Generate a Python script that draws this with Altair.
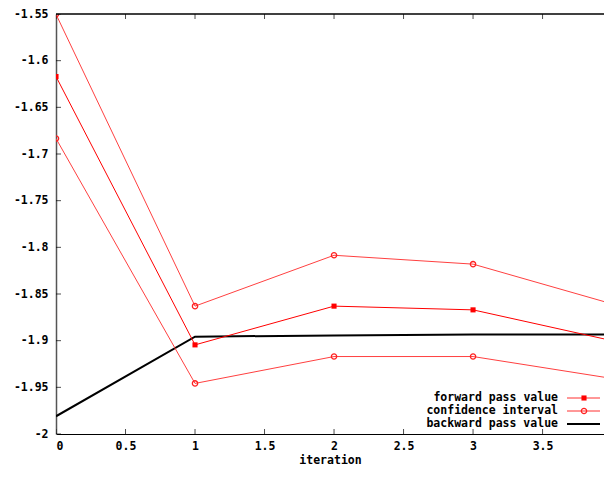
import altair as alt
import pandas as pd

# ---- data ----
iterations = [0, 1, 2, 3, 4]
forward_pass = [-1.617, -1.9045, -1.863, -1.867, -1.900]
ci_upper = [-1.5503, -1.863, -1.8085, -1.818, -1.8606]
ci_lower = [-1.6834, -1.9458, -1.917, -1.917, -1.9405]
backward_pass = [-1.981, -1.8957, -1.8944, -1.8935, -1.8933]

x_tick_values = [0, 0.5, 1, 1.5, 2, 2.5, 3, 3.5]
y_tick_values = [-2, -1.95, -1.9, -1.85, -1.8, -1.75, -1.7, -1.65, -1.6, -1.55]

legend_labels = ["forward pass value", "confidence interval", "backward pass value"]

FONT = "DejaVu Sans Mono"
FS = 11.5
W, H = 548, 420
X_MAX = 3.942  # the reference image is cropped just before iteration 4

fwd_df = pd.DataFrame({"iteration": iterations, "value": forward_pass})
bwd_df = pd.DataFrame({"iteration": iterations, "value": backward_pass})
ci_df = pd.DataFrame({
    "iteration": iterations + iterations,
    "value": ci_upper + ci_lower,
    "bound": ["upper"] * len(iterations) + ["lower"] * len(iterations),
})

xs = alt.Scale(domain=[0, X_MAX], nice=False, zero=False)
ys = alt.Scale(domain=[-2, -1.55], nice=False, zero=False)

axis_font = dict(labelFont=FONT, labelFontWeight="bold", labelFontSize=FS, labelColor="black",
                 titleFont=FONT, titleFontWeight="bold", titleFontSize=FS, titleColor="black")

X = alt.X("iteration:Q", scale=xs, title="iteration",
          axis=alt.Axis(values=x_tick_values, labelExpr="toString(datum.value)",
                        ticks=False, grid=False, labelPadding=6, titlePadding=3,
                        domainColor="black", domainWidth=1, **axis_font))
Y = alt.Y("value:Q", scale=ys, title=None,
          axis=alt.Axis(values=y_tick_values, labelExpr="toString(datum.value)",
                        ticks=False, grid=False, labelPadding=8, domainColor="#555555",
                        domainWidth=1.5, **axis_font))

backward = alt.Chart(bwd_df).mark_line(color="black", strokeWidth=2, clip=True).encode(x=X, y=Y)

ci_lines = alt.Chart(ci_df).mark_line(color="#ff4040", strokeWidth=1, clip=True).encode(
    x="iteration:Q", y="value:Q", detail="bound:N")
ci_pts = alt.Chart(ci_df).mark_point(shape="circle", filled=False, color="#ff2020",
                                     size=28, strokeWidth=1.3, opacity=1, clip=True).encode(
    x="iteration:Q", y="value:Q")

fwd_line = alt.Chart(fwd_df).mark_line(color="#ff0000", strokeWidth=1, clip=True).encode(
    x="iteration:Q", y="value:Q")
fwd_pts = alt.Chart(fwd_df).mark_point(shape="square", filled=True, color="#ff0000",
                                       size=26, opacity=1, clip=True).encode(
    x="iteration:Q", y="value:Q")

# inward ticks (clipped to plot area) and top border
xt_df = pd.DataFrame({"iteration": x_tick_values})
yt_df = pd.DataFrame({"value": y_tick_values})
bottom_ticks = alt.Chart(xt_df).mark_tick(color="black", size=10, thickness=1, clip=True).encode(
    x="iteration:Q", y=alt.value(H))
top_ticks = alt.Chart(xt_df).mark_tick(color="black", size=10, thickness=1, clip=True).encode(
    x="iteration:Q", y=alt.value(0))
left_ticks = alt.Chart(yt_df).mark_tick(color="black", size=10, thickness=1, clip=True).encode(
    y="value:Q", x=alt.value(0))
top_border = alt.Chart(pd.DataFrame({"b": [0]})).mark_rule(color="black", strokeWidth=1.5).encode(
    x=alt.value(0), x2=alt.value(W), y=alt.value(0))

# legend (bottom right, labels left of samples)
legend_layers = []
row_y = [384, 397, 410]
for i, lab in enumerate(legend_labels):
    ldf = pd.DataFrame({"label": [lab]})
    legend_layers.append(
        alt.Chart(ldf).mark_text(align="right", baseline="middle", font=FONT,
                                 fontWeight="bold", fontSize=FS, color="black").encode(
            text="label:N", x=alt.value(502), y=alt.value(row_y[i])))
    if i < 2:
        legend_layers.append(
            alt.Chart(ldf).mark_rule(color="#ff3030", strokeWidth=1).encode(
                x=alt.value(511), x2=alt.value(544), y=alt.value(row_y[i])))
    else:
        legend_layers.append(
            alt.Chart(ldf).mark_rule(color="black", strokeWidth=2).encode(
                x=alt.value(511), x2=alt.value(544), y=alt.value(row_y[i])))
legend_layers.append(
    alt.Chart(pd.DataFrame({"label": [legend_labels[0]]})).mark_point(
        shape="square", filled=True, color="#ff0000", size=26, opacity=1).encode(
        x=alt.value(528), y=alt.value(row_y[0])))
legend_layers.append(
    alt.Chart(pd.DataFrame({"label": [legend_labels[1]]})).mark_point(
        shape="circle", filled=False, color="#ff2020", size=28, strokeWidth=1.3, opacity=1).encode(
        x=alt.value(528), y=alt.value(row_y[1])))

chart = alt.layer(
    backward, ci_lines, ci_pts, fwd_line, fwd_pts,
    bottom_ticks, top_ticks, left_ticks, top_border,
    *legend_layers,
).properties(
    width=W, height=H,
    background="white",
    autosize=alt.AutoSizeParams(type="none"),
    padding={"left": 48, "top": 6, "right": 0, "bottom": 37},
).configure_view(
    stroke="transparent", strokeWidth=0
)

chart.save("out.html", embed_options={"renderer": "svg", "actions": False})
